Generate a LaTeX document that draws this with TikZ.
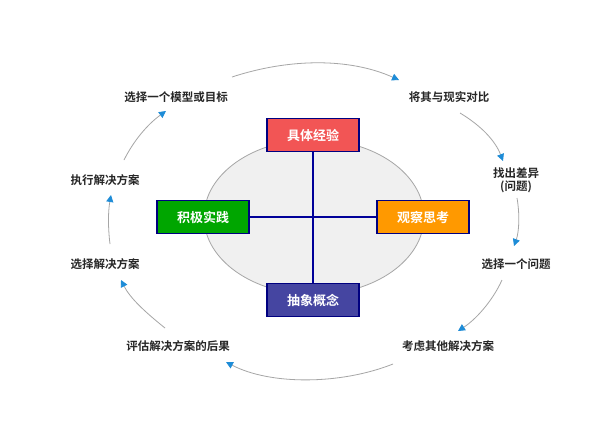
\documentclass[tikz,border=0pt]{standalone}
\usepackage{fontspec}
\setmainfont{Noto Sans CJK SC}[BoldFont={Noto Sans CJK SC Bold}]
\usetikzlibrary{arrows.meta,shapes.geometric}
\definecolor{tipblue}{RGB}{30,140,215}
\begin{document}
\begin{tikzpicture}[x=1pt,y=-1pt,
  box/.style={draw=blue!50!black,line width=1.2pt,minimum width=92pt,minimum height=33pt,text=white,font=\bfseries\fontsize{13}{15}\selectfont},
  lbl/.style={font=\bfseries\fontsize{11.5}{13}\selectfont,align=center,text=black!85},
  arc/.style={draw=gray!70,line width=0.8pt,-{Triangle[length=7pt,width=7pt,color=tipblue]}}]
\useasboundingbox (0,0) rectangle (600,426);
\fill[white] (0,0) rectangle (600,426);
\node[draw=gray!70,fill=gray!12,line width=0.8pt,ellipse,minimum width=220pt,minimum height=155pt] (ell) at (314,217) {};
\node[box,fill=red!65!white!95!black] (a) at (313,135) {具体经验};
\node[box,fill=orange!80!yellow] (b) at (423,217) {观察思考};
\node[box,fill=blue!40!gray!90!black] (c) at (313,300) {抽象概念};
\node[box,fill=green!65!black] (d) at (203,217) {积极实践};
\draw[blue!60!black,line width=1.2pt] (a) -- (c) (d) -- (b);
\node[lbl] (t1) at (176,97) {选择一个模型或目标};
\node[lbl] (t2) at (449,97) {将其与现实对比};
\node[lbl] (t3) at (516,180) {找出差异\\(问题)};
\node[lbl] (t4) at (516,264) {选择一个问题};
\node[lbl] (t5) at (448,346) {考虑其他解决方案};
\node[lbl] (t6) at (178,346) {评估解决方案的后果};
\node[lbl] (t7) at (105,264) {选择解决方案};
\node[lbl] (t8) at (105,180) {执行解决方案};
\coordinate (p1) at (232,77); \coordinate (q1) at (399,80);
\draw[arc] (p1) .. controls (290,58) and (350,58) .. (q1);
\coordinate (p2) at (460,113); \coordinate (q2) at (503,161);
\draw[arc] (p2) .. controls (480,125) and (495,140) .. (q2);
\coordinate (p3) at (517,198); \coordinate (q3) at (514,246);
\draw[arc] (p3) .. controls (520,215) and (519,232) .. (q3);
\coordinate (p4) at (502,280); \coordinate (q4) at (458,331);
\draw[arc] (p4) .. controls (492,302) and (475,320) .. (q4);
\coordinate (p5) at (393,364); \coordinate (q5) at (226,362);
\draw[arc] (p5) .. controls (340,385) and (270,385) .. (q5);
\coordinate (p6) at (165,328); \coordinate (q6) at (121,280);
\draw[arc] (p6) .. controls (145,312) and (130,298) .. (q6);
\coordinate (p7) at (110,244); \coordinate (q7) at (111,195);
\draw[arc] (p7) .. controls (108,228) and (108,212) .. (q7);
\coordinate (p8) at (124,160); \coordinate (q8) at (166,111);
\draw[arc] (p8) .. controls (134,140) and (148,124) .. (q8);
\end{tikzpicture}
\end{document}
